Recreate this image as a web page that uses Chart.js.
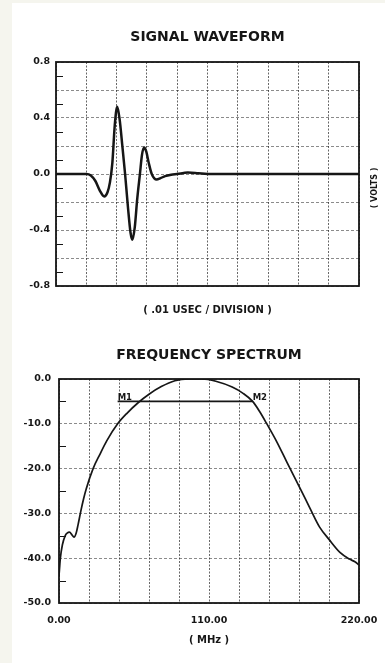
<!DOCTYPE html>
<html lang="en">
<head>
<meta charset="UTF-8" />
<meta name="viewport" content="width=device-width, initial-scale=1.0" />
<title>Signal Waveform / Frequency Spectrum</title>
<script src="https://cdn.jsdelivr.net/npm/chart.js"></script>
<style>
  body {
    margin: 0;
    background-color: #f5f5ee;
  }
  .sheet {
    position: absolute;
    left: 12px;
    top: 3px;
    width: 373px;
    height: 660px;
    background-color: #fff;
  }
  .box {
    position: absolute;
    left: 0;
    width: 385px;
  }
  #wave-box { top: 0; height: 330px; }
  #spec-box { top: 330px; height: 333px; }
</style>
</head>
<body>
<div class="sheet"></div>
<div class="box" id="wave-box"><canvas id="wave"></canvas></div>
<div class="box" id="spec-box"><canvas id="spec"></canvas></div>

<script>
// pulse: time in divisions (.01 usec each) vs volts
const waveTime  = [0, 1.0, 1.15, 1.3, 1.45, 1.59, 1.7, 1.78, 1.86, 1.94, 2.02, 2.1, 2.19, 2.28, 2.38, 2.46, 2.52, 2.6, 2.68, 2.77, 2.84, 2.91, 2.98, 3.06, 3.16, 3.32, 3.45, 3.6, 3.8, 4.0, 4.35, 4.7, 5.0, 10];
const waveVolts = [0, 0, -0.01, -0.05, -0.12, -0.16, -0.13, -0.06, 0.08, 0.35, 0.48, 0.39, 0.2, 0, -0.25, -0.42, -0.47, -0.38, -0.18, 0, 0.14, 0.19, 0.16, 0.08, 0, -0.04, -0.03, -0.015, -0.005, 0, 0.01, 0.005, 0, 0];
const voltLabels = [-0.8, -0.4, 0, 0.4, 0.8];

// spectrum: MHz vs dB
const specFreq = [0, 1, 2.5, 4.5, 6, 7.7, 9.5, 11, 12.5, 14, 16, 18, 20, 25, 30, 35, 43, 50, 58, 66, 75, 85, 95, 105, 115, 127, 135, 142, 147, 152, 160, 167, 172, 177, 184, 191, 198, 206, 213, 217, 220];
const specDb   = [-44, -40, -37, -35, -34.4, -34.2, -34.8, -35.3, -34.5, -32.5, -29.5, -26.8, -24.5, -20, -16.8, -13.8, -10, -7.6, -5.3, -3.4, -1.7, -0.4, 0, 0, -0.5, -1.8, -3.2, -5, -7.2, -9.8, -14.2, -18.5, -21.5, -24.5, -28.8, -33, -35.8, -38.7, -40.2, -40.8, -41.5];
const freqLabels = [0, 110, 220];

// M1 / M2 markers
const markerFreq  = [43, 142];
const markerDb    = [-5, -5];
const markerNames = ['M1', 'M2'];

const INK = '#161616';
Chart.defaults.font.family = "'DejaVu Sans', sans-serif";
Chart.defaults.color = INK;

const isLabelled = (list, v) => list.some(t => Math.abs(t - v) < 1e-6);

// box around the plot plus short minor ticks inside the left edge
const framePlugin = {
  id: 'frame',
  afterDatasetsDraw(chart, args, opts) {
    const { ctx, chartArea: a, scales: { y } } = chart;
    ctx.save();
    ctx.strokeStyle = INK;
    if (opts.minorStep) {
      ctx.lineWidth = 1;
      const n = Math.round((y.max - y.min) / opts.minorStep);
      for (let i = 1; i < n; i += 2) {
        const py = Math.round(y.getPixelForValue(y.min + i * opts.minorStep)) + 0.5;
        ctx.beginPath();
        ctx.moveTo(a.left + 1, py);
        ctx.lineTo(a.left + 7, py);
        ctx.stroke();
      }
    }
    ctx.lineWidth = 1.8;
    ctx.strokeRect(a.left, a.top, a.right - a.left, a.bottom - a.top);
    ctx.restore();
  }
};

// free text: rotated side label and marker names
const notesPlugin = {
  id: 'notes',
  afterDraw(chart, args, opts) {
    const { ctx, chartArea: a, scales: { x, y } } = chart;
    ctx.save();
    ctx.fillStyle = INK;
    if (opts.sideLabel) {
      ctx.font = "bold 8px 'DejaVu Sans'";
      ctx.translate(a.right + 16, (a.top + a.bottom) / 2 + 14);
      ctx.rotate(-Math.PI / 2);
      ctx.textAlign = 'center';
      ctx.textBaseline = 'middle';
      ctx.fillText(opts.sideLabel, 0, 0);
    }
    if (opts.markers) {
      ctx.font = "bold 8.5px 'DejaVu Sans'";
      ctx.textAlign = 'left';
      ctx.textBaseline = 'middle';
      opts.markers.names.forEach((name, i) => {
        ctx.fillText(name, x.getPixelForValue(opts.markers.x[i]), y.getPixelForValue(opts.markers.y[i]) - 4);
      });
    }
    ctx.restore();
  }
};

function gridStyle(dash, color) {
  return {
    grid: { color: color, lineWidth: 0.9, drawTicks: false },
    border: { display: false, dash: dash }
  };
}

// a bare top axis whose title sits centred over the plot
function headingAxis(text, padTop, height) {
  return {
    type: 'linear',
    axis: 'x',
    position: 'top',
    grid: { display: false, drawTicks: false },
    border: { display: false },
    ticks: { display: false },
    title: {
      display: true,
      text: text,
      color: INK,
      font: { size: 14, weight: 'bold' },
      padding: { top: padTop, bottom: 0 }
    },
    afterFit(s) { s.height = height; }
  };
}

new Chart(document.getElementById('wave'), {
  type: 'line',
  data: {
    datasets: [{
      data: waveTime.map((t, i) => ({ x: t, y: waveVolts[i] })),
      xAxisID: 'x',
      yAxisID: 'y',
      borderColor: INK,
      borderWidth: 2.5,
      pointRadius: 0,
      cubicInterpolationMode: 'monotone'
    }]
  },
  options: {
    responsive: true,
    maintainAspectRatio: false,
    animation: false,
    devicePixelRatio: 1,
    layout: { padding: { left: 0, right: 26, top: 0, bottom: 0 } },
    plugins: {
      legend: { display: false },
      tooltip: { enabled: false },
      frame: { minorStep: 0.1 },
      notes: { sideLabel: '( VOLTS )' }
    },
    scales: {
      head: headingAxis('SIGNAL WAVEFORM', 28.6, 62),
      x: {
        type: 'linear',
        min: 0,
        max: 10,
        ...gridStyle([2, 1.5], 'rgba(30,30,30,0.75)'),
        ticks: { display: false, stepSize: 1 },
        title: {
          display: true,
          text: '( .01 USEC / DIVISION )',
          color: INK,
          font: { size: 10, weight: 'bold' },
          padding: { top: 0, bottom: 14 }
        },
        afterFit(s) { s.height = 44; s.paddingLeft = 0; s.paddingRight = 0; }
      },
      y: {
        min: -0.8,
        max: 0.8,
        ...gridStyle([3, 2], 'rgba(40,40,40,0.6)'),
        ticks: {
          stepSize: 0.2,
          autoSkip: false,
          padding: 6,
          font: { size: 9.5, weight: 'bold' },
          callback: v => isLabelled(voltLabels, v) ? v.toFixed(1) : ''
        },
        afterFit(s) { s.width = 56; s.paddingTop = 0; s.paddingBottom = 0; }
      }
    }
  },
  plugins: [framePlugin, notesPlugin]
});

new Chart(document.getElementById('spec'), {
  type: 'line',
  data: {
    datasets: [{
      data: specFreq.map((f, i) => ({ x: f, y: specDb[i] })),
      xAxisID: 'x',
      yAxisID: 'y',
      borderColor: INK,
      borderWidth: 1.7,
      pointRadius: 0,
      cubicInterpolationMode: 'monotone'
    }, {
      data: markerFreq.map((f, i) => ({ x: f, y: markerDb[i] })),
      xAxisID: 'x',
      yAxisID: 'y',
      borderColor: INK,
      borderWidth: 1.6,
      pointRadius: 0
    }]
  },
  options: {
    responsive: true,
    maintainAspectRatio: false,
    animation: false,
    devicePixelRatio: 1,
    layout: { padding: { left: 0, right: 26, top: 0, bottom: 0 } },
    plugins: {
      legend: { display: false },
      tooltip: { enabled: false },
      frame: { minorStep: 5 },
      notes: { markers: { x: markerFreq, y: markerDb, names: markerNames } }
    },
    scales: {
      head: headingAxis('FREQUENCY SPECTRUM', 16.6, 49),
      x: {
        type: 'linear',
        min: 0,
        max: 220,
        ...gridStyle([2, 1.5], 'rgba(30,30,30,0.75)'),
        ticks: {
          stepSize: 22,
          autoSkip: false,
          maxRotation: 0,
          padding: 12,
          font: { size: 9.5, weight: 'bold' },
          callback: v => isLabelled(freqLabels, v) ? v.toFixed(2) : ''
        },
        title: {
          display: true,
          text: '( MHz )',
          color: INK,
          font: { size: 10, weight: 'bold' },
          padding: { top: 0, bottom: 17 }
        },
        afterFit(s) { s.height = 60; s.paddingLeft = 0; s.paddingRight = 0; }
      },
      y: {
        min: -50,
        max: 0,
        ...gridStyle([3, 2], 'rgba(40,40,40,0.6)'),
        ticks: {
          stepSize: 10,
          autoSkip: false,
          padding: 8,
          font: { size: 9.5, weight: 'bold' },
          callback: v => v.toFixed(1)
        },
        afterFit(s) { s.width = 59; s.paddingTop = 0; s.paddingBottom = 0; }
      }
    }
  },
  plugins: [framePlugin, notesPlugin]
});
</script>
</body>
</html>
